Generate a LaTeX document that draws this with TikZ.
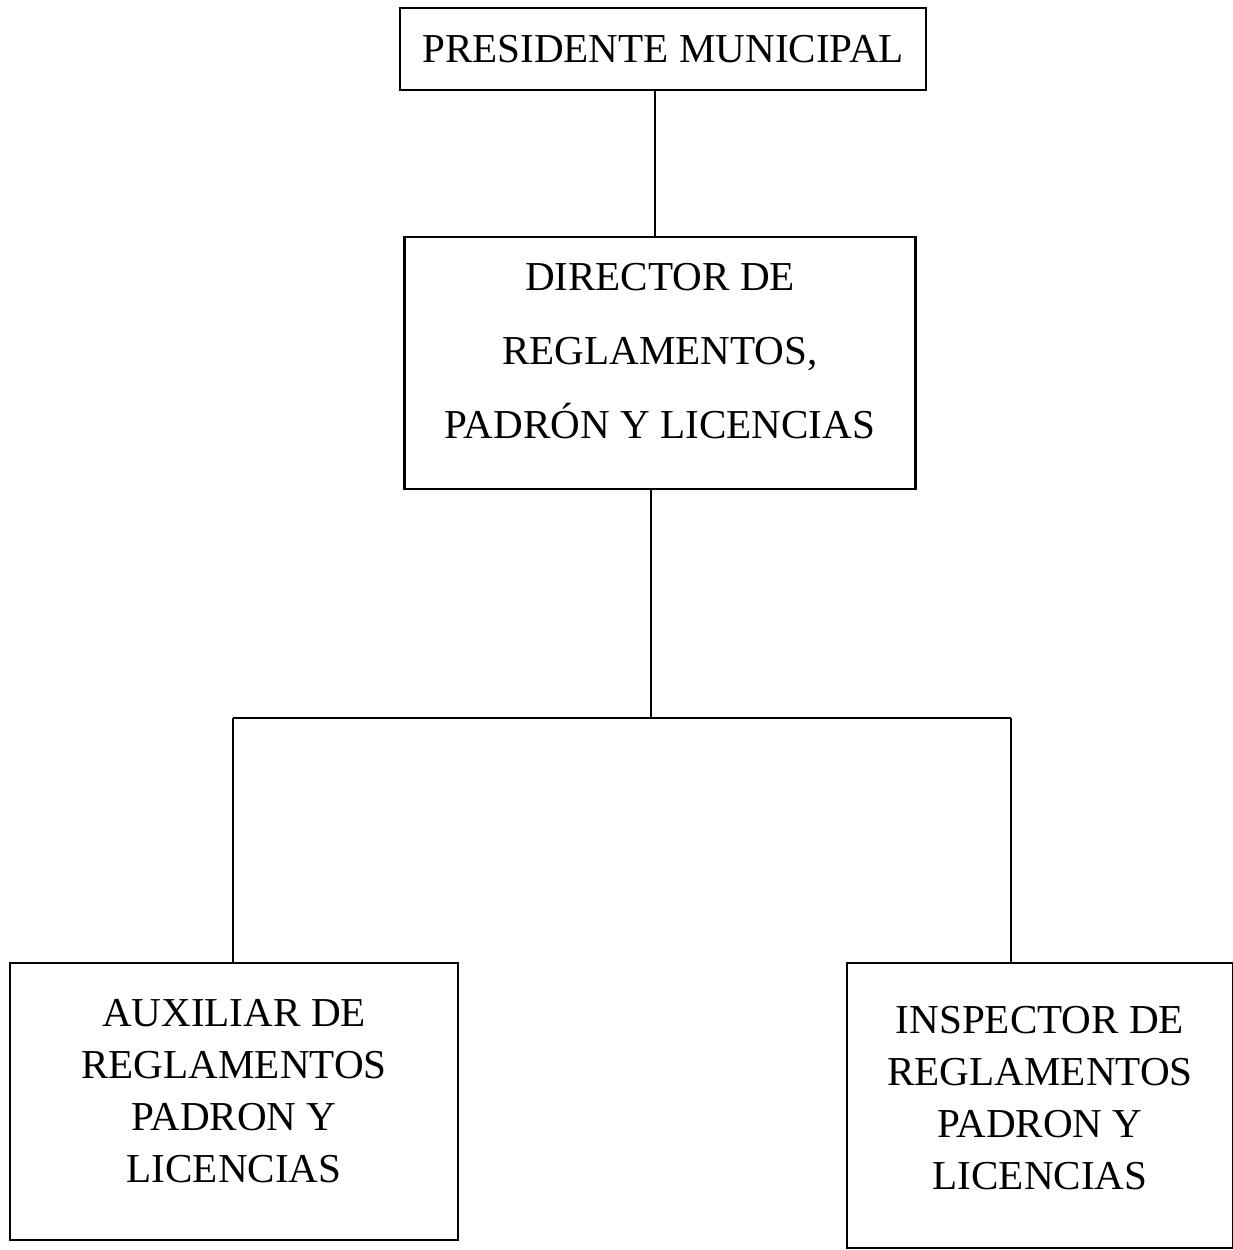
\documentclass[tikz,border=0pt]{standalone}
\usepackage{fontspec}
\setmainfont{Liberation Serif}

\tikzset{
	box/.style={draw, line width=0.7pt, align=center, inner sep=0pt, font=\fontsize{11.7}{21}\selectfont},
	subbox/.style={box, font=\fontsize{11.7}{14.8}\selectfont},
	link/.style={line width=0.6pt}
}

\begin{document}
\begin{tikzpicture}
	\useasboundingbox (0,0) rectangle (12.33,-12.5);

	\node[box, minimum width=5.26cm, minimum height=0.82cm] (pres) at (6.63,-0.49) {PRESIDENTE MUNICIPAL};
	\node[box, minimum width=5.11cm, minimum height=2.52cm] (dir) at (6.60,-3.63) {DIRECTOR DE\\REGLAMENTOS,\\PADRÓN Y LICENCIAS\rule[-0.24cm]{0pt}{0pt}};
	\node[subbox, minimum width=4.48cm, minimum height=2.77cm] (aux) at (2.34,-11.015) {AUXILIAR DE\\REGLAMENTOS\\PADRON Y\\LICENCIAS\rule[-0.22cm]{0pt}{0pt}};
	\node[subbox, minimum width=3.86cm, minimum height=2.85cm] (insp) at (10.40,-11.055) {INSPECTOR DE\\REGLAMENTOS\\PADRON Y\\LICENCIAS\rule[-0.16cm]{0pt}{0pt}};

	% branch points
	\coordinate (top) at (6.55,-0.90);
	\coordinate (mid) at (6.51,-7.18);
	\coordinate (jl) at (2.33,-7.18);
	\coordinate (jr) at (10.11,-7.18);

	\draw[link] (top) -- (top |- dir.north);
	\draw[link] (mid |- dir.south) -- (mid);
	\draw[link] (jl) -- (jr);
	\draw[link] (jl) -- (jl |- aux.north);
	\draw[link] (jr) -- (jr |- insp.north);
\end{tikzpicture}
\end{document}
